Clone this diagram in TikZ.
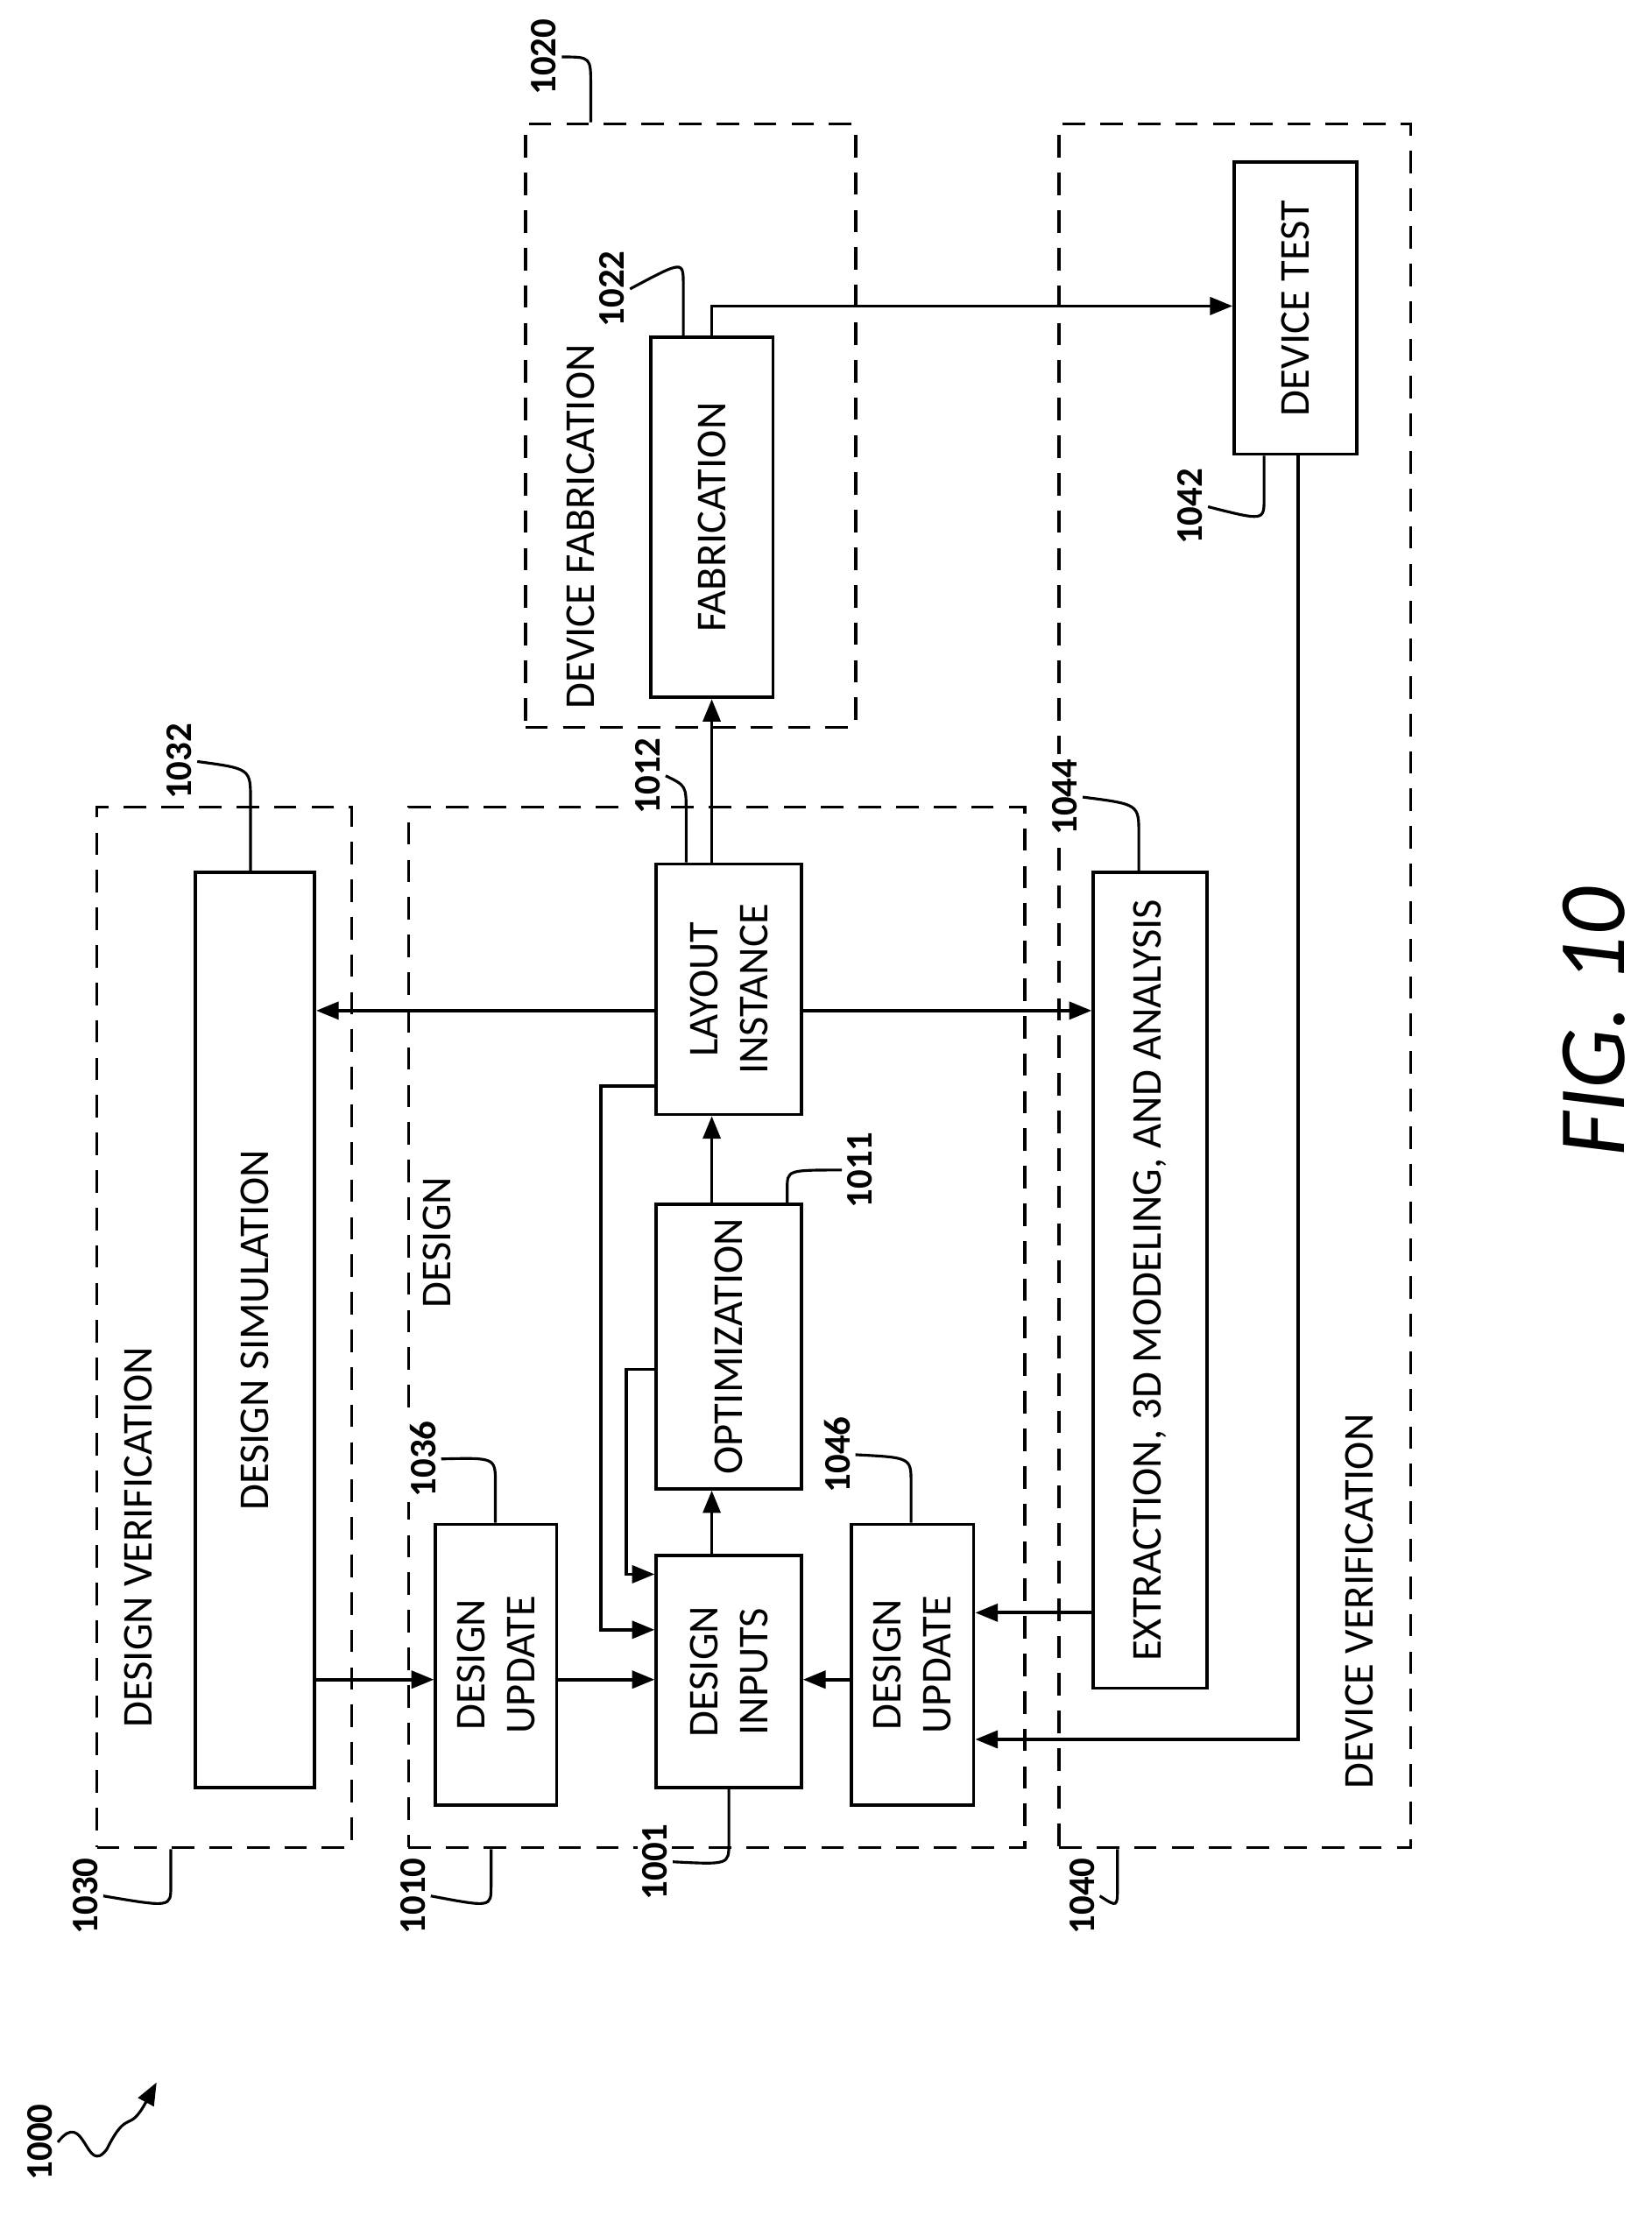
\documentclass[tikz,border=0pt]{standalone}
\usepackage{fontspec}
\setmainfont{Carlito}
\usetikzlibrary{fit,arrows.meta}
\begin{document}
\begin{tikzpicture}[x=0.02cm,y=-0.02cm,
  box/.style={draw,line width=1.3pt,inner sep=0pt},
  dbox/.style={draw,line width=1.3pt,dash pattern=on 9pt off 6pt,inner sep=0pt},
  txt/.style={rotate=90,align=center,font=\fontsize{17}{20}\selectfont},
  num/.style={rotate=90,font=\bfseries\fontsize{15}{18}\selectfont,inner sep=2pt,fill=white},
  ar/.style={line width=1.3pt,-{Triangle[length=9pt,width=7pt]}},
  ln/.style={line width=1.3pt},
  ld/.style={line width=1.1pt}]
\useasboundingbox (0,0) rectangle (1160,1566);
% dashed groups
\node[dbox,fit={(68,567)(247,1298)}] (g1030) {};
\node[dbox,fit={(287,567)(720,1298)}] (g1010) {};
\node[dbox,fit={(369,87)(601,511)}] (g1020) {};
\node[dbox,fit={(744,87)(991,1298)}] (g1040) {};
\node[txt] (t1030) at (97,1080) {DESIGN VERIFICATION};
\node[txt] (t1010) at (307,873) {DESIGN};
\node[txt] (t1020) at (408,370) {DEVICE FABRICATION};
\node[txt] (t1040) at (955,1125) {DEVICE VERIFICATION};
% boxes
\node[box,fit={(137,613)(221,1256)}] (sim) {};
\node[txt] at (sim.center) {DESIGN SIMULATION};
\node[box,fit={(306,1071)(391,1268)}] (du1) {};
\node[txt] at (du1.center) {DESIGN\\UPDATE};
\node[box,fit={(461,1093)(563,1256)}] (di) {};
\node[txt] at (di.center) {DESIGN\\INPUTS};
\node[box,fit={(461,846)(563,1046)}] (opt) {};
\node[txt] at (opt.center) {OPTIMIZATION};
\node[box,fit={(461,607)(563,783)}] (lay) {};
\node[txt] at (lay.center) {LAYOUT\\INSTANCE};
\node[box,fit={(598,1071)(684,1268)}] (du2) {};
\node[txt] at (du2.center) {DESIGN\\UPDATE};
\node[box,fit={(457,237)(543,490)}] (fab) {};
\node[txt] at (fab.center) {FABRICATION};
\node[box,fit={(867,114)(953,319)}] (dt) {};
\node[txt] at (dt.center) {DEVICE TEST};
\node[box,fit={(768,613)(848,1186)}] (ext) {};
\node[txt] at (ext.center) {EXTRACTION, 3D MODELING, AND ANALYSIS};
\node[rotate=90,font=\itshape\fontsize{38}{42}\selectfont] (fig) at (1120,718) {FIG. 10};
% connectors
\draw[ar] (lay.north -| 500,0) -- (fab.south -| 500,0);
\draw[ar] (fab.north -| 500,0) |- (dt.west |- 0,215);
\draw[ar] (lay.west |- 0,710) -- (sim.east |- 0,710);
\draw[ar] (lay.east |- 0,710) -- (ext.west |- 0,710);
\draw[ar] (sim.east |- 0,1180) -- (du1.west |- 0,1180);
\draw[ar] (du1.east |- 0,1180) -- (di.west |- 0,1180);
\draw[ar] (du2.west |- 0,1180) -- (di.east |- 0,1180);
\draw[ar] (ext.west |- 0,1133) -- (du2.east |- 0,1133);
\draw[ar] (dt.south -| 912,0) |- (du2.east |- 0,1222);
\draw[ar] (di.north -| 500,0) -- (opt.south -| 500,0);
\draw[ar] (opt.north -| 500,0) -- (lay.south -| 500,0);
\draw[ar] (lay.west |- 0,763) -- (422,763) |- (di.west |- 0,1145);
\draw[ar] (opt.west |- 0,962) -- (440,962) |- (di.west |- 0,1106);
% reference numerals and leaders
\node[num] (n1020) at (382,40) {1020};
\draw[ld] (n1020.south) .. controls (415,40) .. (415,60) -- (g1020.north -| 415,0);
\node[num] (n1022) at (430,203) {1022};
\draw[ld] (n1022.south) .. controls (480,183) .. (480,200) -- (fab.north -| 480,0);
\node[num] (n1012) at (455,545) {1012};
\draw[ld] (n1012.south) .. controls (482,552) .. (482,570) -- (lay.north -| 482,0);
\node[num] (n1032) at (126,535) {1032};
\draw[ld] (n1032.south) .. controls (176,540) .. (176,562) -- (sim.north -| 176,0);
\node[num] (n1036) at (297,1025) {1036};
\draw[ld] (n1036.south) .. controls (348,1024) .. (348,1042) -- (du1.north -| 348,0);
\node[num] (n1011) at (604,822) {1011};
\draw[ld] (opt.north -| 553,0) -- (553,835) .. controls (553,822) .. (n1011.north);
\node[num] (n1046) at (588,1022) {1046};
\draw[ld] (n1046.south) .. controls (640,1024) .. (640,1042) -- (du2.north -| 640,0);
\node[num] (n1044) at (748,560) {1044};
\draw[ld] (n1044.south) .. controls (800,565) .. (800,586) -- (ext.north -| 800,0);
\node[num] (n1042) at (836,356) {1042};
\draw[ld] (dt.south -| 888,0) -- (888,350) .. controls (888,366) .. (n1042.south);
\node[num] (n1030) at (60,1332) {1030};
\draw[ld] (g1030.south -| 120,0) -- (120,1325) .. controls (120,1340) .. (n1030.south);
\node[num] (n1010) at (290,1332) {1010};
\draw[ld] (g1010.south -| 345,0) -- (345,1325) .. controls (345,1340) .. (n1010.south);
\node[num] (n1001) at (460,1308) {1001};
\draw[ld] (di.south -| 512,0) -- (512,1295) .. controls (512,1310) .. (n1001.south);
\node[num] (n1040) at (760,1332) {1040};
\draw[ld] (g1040.south -| 785,0) -- (785,1325) .. controls (785,1340) .. (n1040.south);
\node[num] (n1000) at (28,1505) {1000};
\coordinate (sq) at (110,1463);
\draw[ld,-{Triangle[length=9pt,width=7pt]}] (n1000.south) .. controls (60,1480) and (60,1530) .. (75,1510) .. controls (90,1480) and (90,1500) .. (sq);
\end{tikzpicture}
\end{document}
